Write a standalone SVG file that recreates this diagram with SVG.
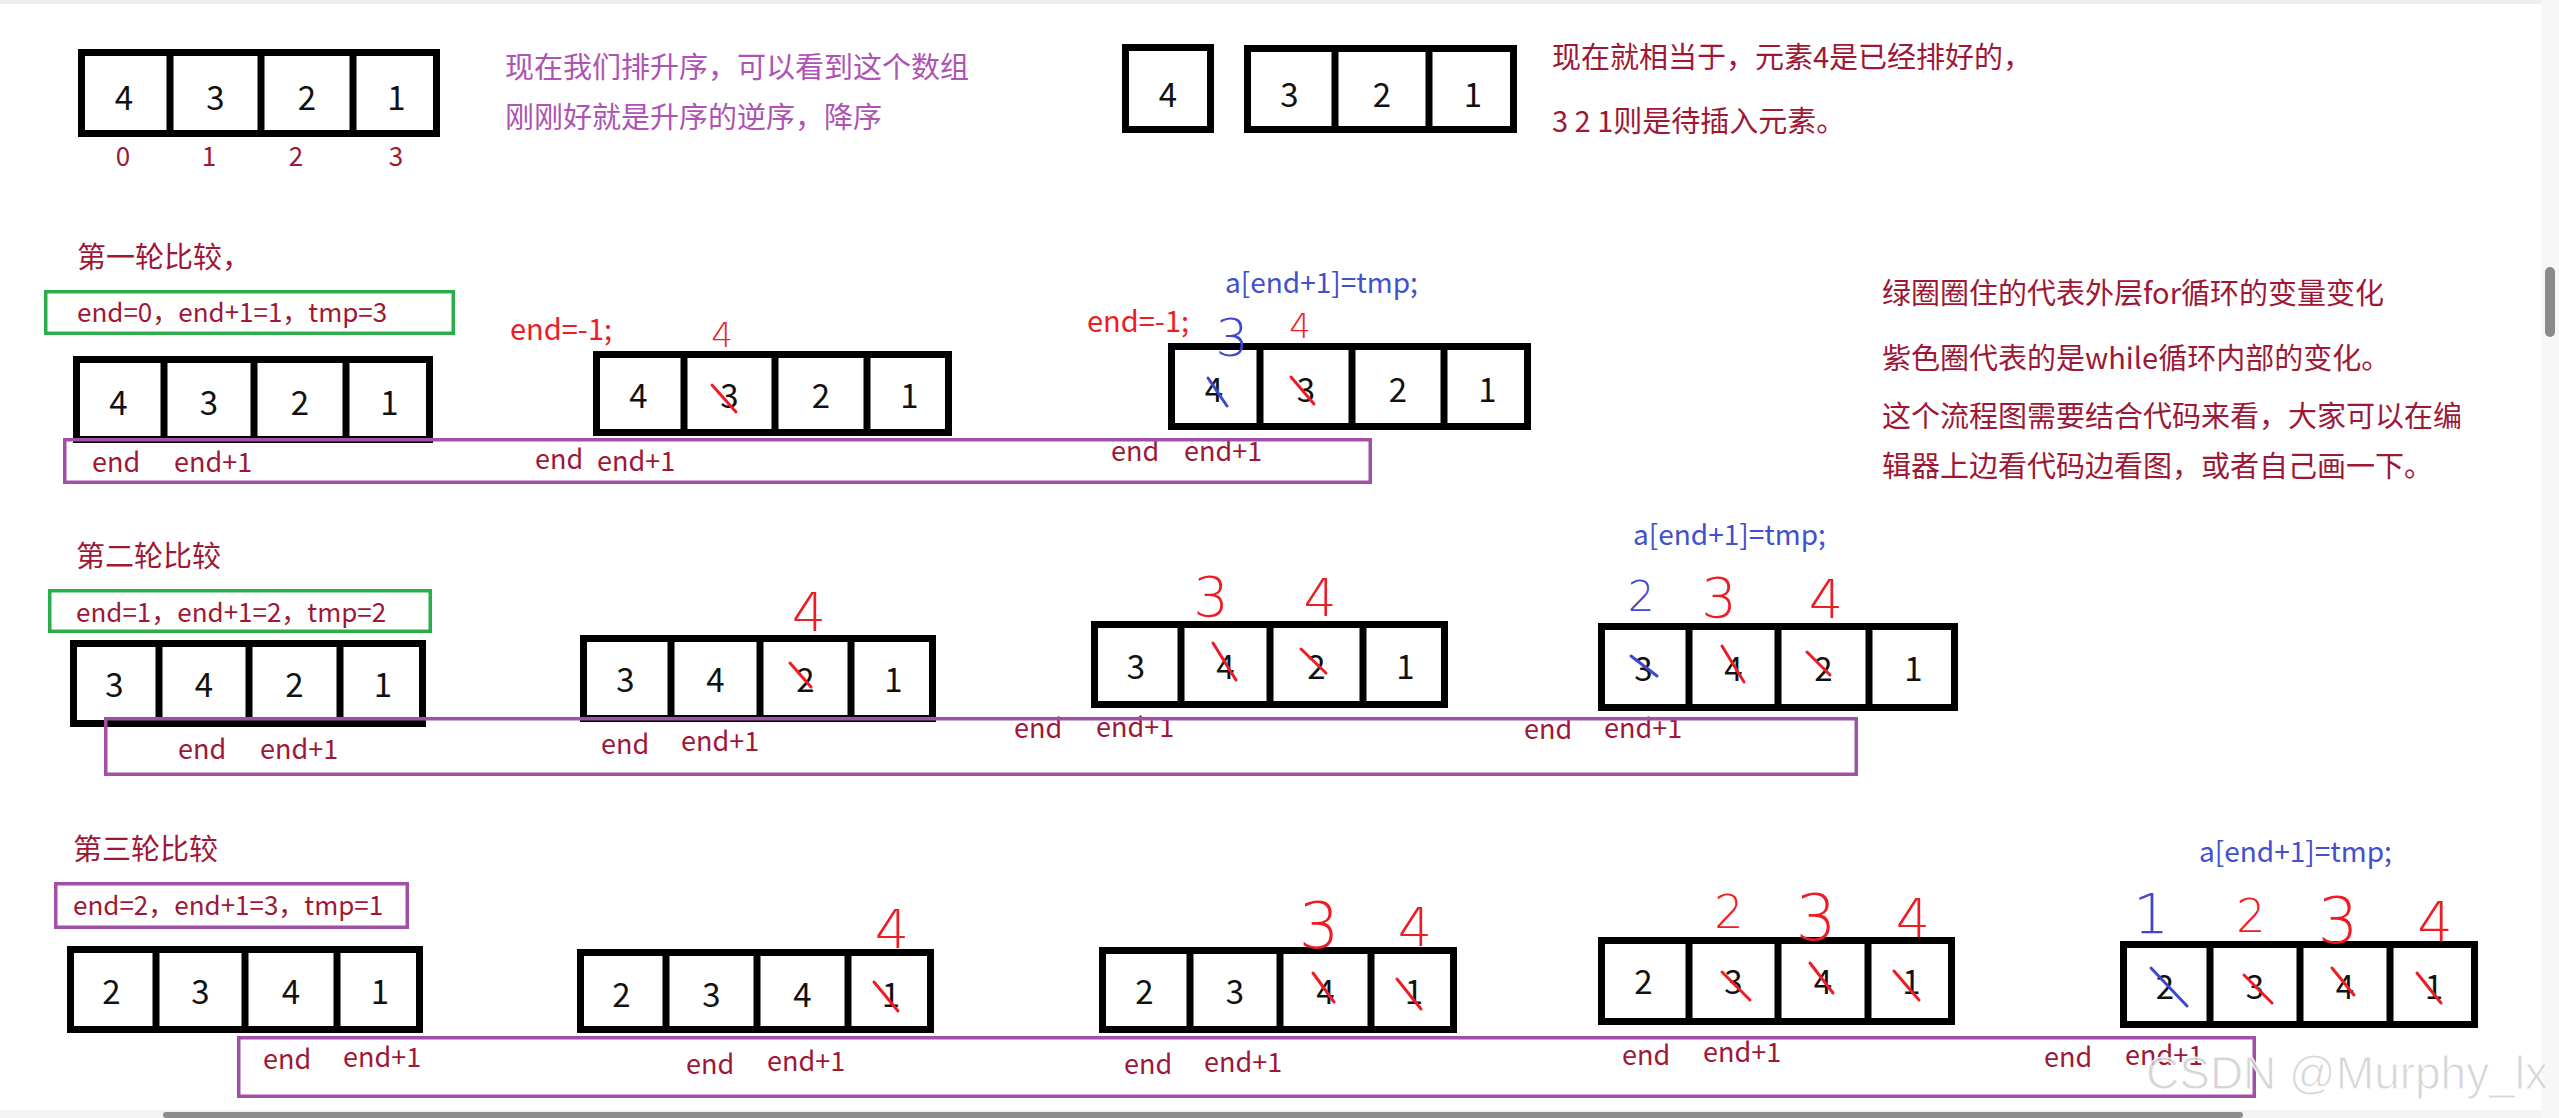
<svg xmlns="http://www.w3.org/2000/svg" width="2559" height="1118" viewBox="0 0 2559 1118">
<style>
.bg{fill:#ffffff}
.cell{fill:#ffffff;stroke:#000000;stroke-width:7}
.div{stroke:#000000;stroke-width:7}
.num{font-family:"Noto Sans CJK SC","Noto Sans",sans-serif;font-size:33px;fill:#111111;text-anchor:middle}
.t{font-family:"Noto Sans CJK SC","Noto Sans",sans-serif;font-size:29px}
.v{font-family:"Noto Sans CJK SC","Noto Sans",sans-serif;font-size:26px;fill:#9E1836}
.dr{fill:#9E1836}
.pu{fill:#AE52B3}
.rd{fill:#EE1C24}
.bl{fill:#4150CC}
.code{font-size:28px}
.lbl{font-family:"Noto Sans CJK SC","Noto Sans",sans-serif;font-size:27px;fill:#9E1836}
.idx{font-family:"Noto Sans CJK SC","Noto Sans",sans-serif;font-size:26px;fill:#9E1836;text-anchor:middle}
.hw{font-family:"DejaVu Sans",sans-serif;font-weight:200;text-anchor:middle}
.hr{fill:#EE1C24}
.hb{fill:#3F48CC}
.sr{stroke:#EE1C24;stroke-width:3;stroke-linecap:round;fill:none}
.sb{stroke:#3F48CC;stroke-width:3;stroke-linecap:round;fill:none}
.fg{fill:none;stroke:#2BAE4A;stroke-width:3.5}
.fp{fill:none;stroke:#A24FA6;stroke-width:3.5}
</style>
<rect class="bg" x="0" y="0" width="2559" height="1118"/>
<rect x="0" y="0" width="2559" height="4" fill="#eeeeee"/>

<!-- top arrays -->
<g id="array-initial">
<rect class="cell" x="81.5" y="52.5" width="355" height="81"/>
<line class="div" x1="170" y1="49" x2="170" y2="137"/><line class="div" x1="261" y1="49" x2="261" y2="137"/><line class="div" x1="353" y1="49" x2="353" y2="137"/>
<text class="num" x="124" y="110">4</text><text class="num" x="215.5" y="110">3</text><text class="num" x="307" y="110">2</text><text class="num" x="396.5" y="110">1</text>
</g>
<g id="indices">
<text class="idx" x="123" y="166">0</text><text class="idx" x="209" y="166">1</text><text class="idx" x="296" y="166">2</text><text class="idx" x="396" y="166">3</text>
</g>
<g id="note-ascending">
<text class="t pu" x="505" y="78">现在我们排升序，可以看到这个数组</text>
<text class="t pu" x="505" y="128">刚刚好就是升序的逆序，降序</text>
</g>
<g id="array-sorted-part">
<rect class="cell" x="1125.5" y="47.5" width="85" height="82"/>
<text class="num" x="1168" y="107">4</text>
</g>
<g id="array-unsorted-part">
<rect class="cell" x="1247.5" y="48.5" width="266" height="81"/>
<line class="div" x1="1335" y1="45" x2="1335" y2="133"/><line class="div" x1="1429" y1="45" x2="1429" y2="133"/>
<text class="num" x="1289.5" y="107">3</text><text class="num" x="1382" y="107">2</text><text class="num" x="1473" y="107">1</text>
</g>
<g id="note-sorted">
<text class="t dr" x="1552" y="68">现在就相当于，元素4是已经排好的，</text>
<text class="t dr" x="1552" y="132">3 2 1则是待插入元素。</text>
</g>
<g id="note-legend">
<text class="t dr" x="1882" y="304">绿圈圈住的代表外层for循环的变量变化</text>
<text class="t dr" x="1882" y="369">紫色圈代表的是while循环内部的变化。</text>
<text class="t dr" x="1882" y="427">这个流程图需要结合代码来看，大家可以在编</text>
<text class="t dr" x="1882" y="477">辑器上边看代码边看图，或者自己画一下。</text>
</g>

<!-- round 1 -->
<g id="round1-title"><text class="t dr" x="77" y="268">第一轮比较，</text></g>
<g id="round1-vars">
<rect class="fg" x="45.75" y="291.75" width="407.5" height="41.5"/>
<text class="v" x="77" y="322">end=0，end+1=1，tmp=3</text>
</g>
<g id="r1-a">
<rect class="cell" x="76.5" y="359.5" width="353" height="80"/>
<line class="div" x1="164" y1="356" x2="164" y2="443"/><line class="div" x1="254" y1="356" x2="254" y2="443"/><line class="div" x1="346" y1="356" x2="346" y2="443"/>
<text class="num" x="118.5" y="415">4</text><text class="num" x="209" y="415">3</text><text class="num" x="300" y="415">2</text><text class="num" x="389.5" y="415">1</text>
</g>
<g id="r1-b">
<text class="t rd" x="510" y="340">end=-1;</text>
<rect class="cell" x="596.5" y="354.5" width="352" height="78"/>
<line class="div" x1="684" y1="351" x2="684" y2="436"/><line class="div" x1="775" y1="351" x2="775" y2="436"/><line class="div" x1="867" y1="351" x2="867" y2="436"/>
<text class="num" x="638.5" y="408">4</text><text class="num" x="729.5" y="408">3</text><text class="num" x="821" y="408">2</text><text class="num" x="909.5" y="408">1</text>
<text class="hw hr" x="722" y="347" font-size="34">4</text>
</g>
<g id="r1-c">
<text class="t bl code" x="1225" y="293">a[end+1]=tmp;</text>
<text class="t rd" x="1087" y="332">end=-1;</text>
<rect class="cell" x="1171.5" y="346.5" width="356" height="80"/>
<line class="div" x1="1260" y1="343" x2="1260" y2="430"/><line class="div" x1="1352" y1="343" x2="1352" y2="430"/><line class="div" x1="1444" y1="343" x2="1444" y2="430"/>
<text class="num" x="1214" y="402">4</text><text class="num" x="1306" y="402">3</text><text class="num" x="1398" y="402">2</text><text class="num" x="1487.5" y="402">1</text>
<text class="hw hb" x="1232" y="356" font-size="52">3</text>
<text class="hw hr" x="1300" y="338" font-size="34">4</text>
</g>
<g id="r1-labels">
<text class="lbl" x="92" y="472">end</text><text class="lbl" x="174" y="472">end+1</text>
<text class="lbl" x="535" y="469">end</text><text class="lbl" x="597" y="471">end+1</text>
<text class="lbl" x="1111" y="461">end</text><text class="lbl" x="1184" y="461">end+1</text>
</g>

<!-- round 2 -->
<g id="round2-title"><text class="t dr" x="76" y="567">第二轮比较</text></g>
<g id="round2-vars">
<rect class="fg" x="49.75" y="590.75" width="380.5" height="40.5"/>
<text class="v" x="76" y="622">end=1，end+1=2，tmp=2</text>
</g>
<g id="r2-a">
<rect class="cell" x="73.5" y="643.5" width="349" height="80"/>
<line class="div" x1="159" y1="640" x2="159" y2="727"/><line class="div" x1="249" y1="640" x2="249" y2="727"/><line class="div" x1="340" y1="640" x2="340" y2="727"/>
<text class="num" x="114.5" y="697">3</text><text class="num" x="204" y="697">4</text><text class="num" x="294.5" y="697">2</text><text class="num" x="383" y="697">1</text>
</g>
<g id="r2-b">
<rect class="cell" x="583.5" y="638.5" width="349" height="80"/>
<line class="div" x1="671" y1="635" x2="671" y2="722"/><line class="div" x1="760" y1="635" x2="760" y2="722"/><line class="div" x1="851" y1="635" x2="851" y2="722"/>
<text class="num" x="625.5" y="692">3</text><text class="num" x="715.5" y="692">4</text><text class="num" x="805.5" y="692">2</text><text class="num" x="893.5" y="692">1</text>
<text class="hw hr" x="809" y="631" font-size="54">4</text>
</g>
<g id="r2-c">
<rect class="cell" x="1094.5" y="624.5" width="350" height="80"/>
<line class="div" x1="1181" y1="621" x2="1181" y2="708"/><line class="div" x1="1270" y1="621" x2="1270" y2="708"/><line class="div" x1="1363" y1="621" x2="1363" y2="708"/>
<text class="num" x="1136" y="679">3</text><text class="num" x="1225.5" y="679">4</text><text class="num" x="1316.5" y="679">2</text><text class="num" x="1405.5" y="679">1</text>
<text class="hw hr" x="1211" y="616" font-size="56">3</text>
<text class="hw hr" x="1320" y="616" font-size="52">4</text>
</g>
<g id="r2-d">
<text class="t bl code" x="1633" y="545">a[end+1]=tmp;</text>
<rect class="cell" x="1601.5" y="626.5" width="353" height="81"/>
<line class="div" x1="1689" y1="623" x2="1689" y2="711"/><line class="div" x1="1778" y1="623" x2="1778" y2="711"/><line class="div" x1="1869" y1="623" x2="1869" y2="711"/>
<text class="num" x="1643.5" y="681">3</text><text class="num" x="1733.5" y="681">4</text><text class="num" x="1823.5" y="681">2</text><text class="num" x="1913.5" y="681">1</text>
<text class="hw hb" x="1641" y="611" font-size="42">2</text>
<text class="hw hr" x="1719" y="617" font-size="56">3</text>
<text class="hw hr" x="1826" y="618" font-size="54">4</text>
</g>
<g id="r2-labels">
<text class="lbl" x="178" y="759">end</text><text class="lbl" x="260" y="759">end+1</text>
<text class="lbl" x="601" y="754">end</text><text class="lbl" x="681" y="751">end+1</text>
<text class="lbl" x="1014" y="738">end</text><text class="lbl" x="1096" y="737">end+1</text>
<text class="lbl" x="1524" y="739">end</text><text class="lbl" x="1604" y="738">end+1</text>
</g>

<!-- round 3 -->
<g id="round3-title"><text class="t dr" x="73" y="860">第三轮比较</text></g>
<g id="round3-vars">
<rect class="fp" x="55.75" y="883.75" width="351.5" height="43.5"/>
<text class="v" x="73" y="915">end=2，end+1=3，tmp=1</text>
</g>
<g id="r3-a">
<rect class="cell" x="70.5" y="949.5" width="349" height="80"/>
<line class="div" x1="156" y1="946" x2="156" y2="1033"/><line class="div" x1="245" y1="946" x2="245" y2="1033"/><line class="div" x1="337" y1="946" x2="337" y2="1033"/>
<text class="num" x="111.5" y="1004">2</text><text class="num" x="200.5" y="1004">3</text><text class="num" x="291" y="1004">4</text><text class="num" x="380" y="1004">1</text>
</g>
<g id="r3-b">
<rect class="cell" x="580.5" y="952.5" width="350" height="77"/>
<line class="div" x1="666" y1="949" x2="666" y2="1033"/><line class="div" x1="757" y1="949" x2="757" y2="1033"/><line class="div" x1="848" y1="949" x2="848" y2="1033"/>
<text class="num" x="621.5" y="1007">2</text><text class="num" x="711.5" y="1007">3</text><text class="num" x="802.5" y="1007">4</text><text class="num" x="891" y="1007">1</text>
<text class="hw hr" x="892" y="948" font-size="54">4</text>
</g>
<g id="r3-c">
<rect class="cell" x="1102.5" y="950.5" width="351" height="79"/>
<line class="div" x1="1190" y1="947" x2="1190" y2="1033"/><line class="div" x1="1280" y1="947" x2="1280" y2="1033"/><line class="div" x1="1371" y1="947" x2="1371" y2="1033"/>
<text class="num" x="1144.5" y="1004">2</text><text class="num" x="1235" y="1004">3</text><text class="num" x="1325.5" y="1004">4</text><text class="num" x="1414" y="1004">1</text>
<text class="hw hr" x="1319" y="948" font-size="64">3</text>
<text class="hw hr" x="1415" y="946" font-size="54">4</text>
</g>
<g id="r3-d">
<rect class="cell" x="1601.5" y="940.5" width="350" height="81"/>
<line class="div" x1="1689" y1="937" x2="1689" y2="1025"/><line class="div" x1="1778" y1="937" x2="1778" y2="1025"/><line class="div" x1="1868" y1="937" x2="1868" y2="1025"/>
<text class="num" x="1643.5" y="994">2</text><text class="num" x="1733.5" y="994">3</text><text class="num" x="1823" y="994">4</text><text class="num" x="1911.5" y="994">1</text>
<text class="hw hr" x="1729" y="928" font-size="46">2</text>
<text class="hw hr" x="1816" y="940" font-size="64">3</text>
<text class="hw hr" x="1913" y="937" font-size="54">4</text>
</g>
<g id="r3-e">
<text class="t bl code" x="2199" y="862">a[end+1]=tmp;</text>
<rect class="cell" x="2123.5" y="944.5" width="351" height="80"/>
<line class="div" x1="2210" y1="941" x2="2210" y2="1028"/><line class="div" x1="2300" y1="941" x2="2300" y2="1028"/><line class="div" x1="2390" y1="941" x2="2390" y2="1028"/>
<text class="num" x="2165" y="999">2</text><text class="num" x="2255" y="999">3</text><text class="num" x="2345" y="999">4</text><text class="num" x="2434" y="999">1</text>
<text class="hw hb" x="2151" y="933" font-size="56" font-weight="700">1</text>
<text class="hw hr" x="2251" y="932" font-size="46">2</text>
<text class="hw hr" x="2338" y="943" font-size="64">3</text>
<text class="hw hr" x="2435" y="941" font-size="56">4</text>
</g>
<g id="r3-labels">
<text class="lbl" x="263" y="1069">end</text><text class="lbl" x="343" y="1067">end+1</text>
<text class="lbl" x="686" y="1074">end</text><text class="lbl" x="767" y="1071">end+1</text>
<text class="lbl" x="1124" y="1074">end</text><text class="lbl" x="1204" y="1072">end+1</text>
<text class="lbl" x="1622" y="1065">end</text><text class="lbl" x="1703" y="1062">end+1</text>
<text class="lbl" x="2044" y="1067">end</text><text class="lbl" x="2125" y="1065">end+1</text>
</g>

<!-- strike marks -->
<g id="connectors">
<line class="sr" x1="712" y1="385" x2="736" y2="412"/>
<line class="sb" x1="1208" y1="378" x2="1227" y2="406"/>
<line class="sr" x1="1291" y1="377" x2="1314" y2="404"/>
<line class="sr" x1="790" y1="663" x2="811" y2="687"/>
<line class="sr" x1="1213" y1="643" x2="1236" y2="680"/>
<line class="sr" x1="1301" y1="649" x2="1326" y2="673"/>
<line class="sb" x1="1631" y1="656" x2="1657" y2="676"/>
<line class="sr" x1="1722" y1="646" x2="1744" y2="682"/>
<line class="sr" x1="1807" y1="652" x2="1830" y2="675"/>
<line class="sr" x1="874" y1="982" x2="898" y2="1011"/>
<line class="sr" x1="1313" y1="973" x2="1334" y2="1002"/>
<line class="sr" x1="1397" y1="979" x2="1421" y2="1009"/>
<line class="sr" x1="1722" y1="972" x2="1750" y2="1000"/>
<line class="sr" x1="1810" y1="963" x2="1833" y2="993"/>
<line class="sr" x1="1894" y1="971" x2="1919" y2="1000"/>
<line class="sb" x1="2151" y1="968" x2="2187" y2="1006"/>
<line class="sr" x1="2244" y1="975" x2="2272" y2="1003"/>
<line class="sr" x1="2332" y1="968" x2="2354" y2="995"/>
<line class="sr" x1="2417" y1="973" x2="2441" y2="1003"/>
</g>

<!-- while-loop frames -->
<g id="frames">
<rect class="fp" x="64.75" y="439.75" width="1305.5" height="42.5"/>
<rect class="fp" x="105.75" y="718.75" width="1750.5" height="55.5"/>
<rect class="fp" x="238.75" y="1037.75" width="2015.5" height="58.5"/>
</g>

<!-- screenshot chrome -->
<rect x="2541" y="0" width="18" height="1118" fill="#f7f7f7"/>
<rect x="2545" y="267" width="10" height="70" rx="5" fill="#8a8a8a"/>
<rect x="0" y="1110" width="2541" height="8" fill="#f3f3f3"/>
<rect x="163" y="1112" width="2080" height="6" rx="3" fill="#8d8d8d"/>
<text x="2146" y="1089" font-family="Liberation Sans, sans-serif" font-size="46" fill="#cfcfcf" fill-opacity="0.85" stroke="#ffffff" stroke-width="1">CSDN @Murphy_lx</text>
</svg>
